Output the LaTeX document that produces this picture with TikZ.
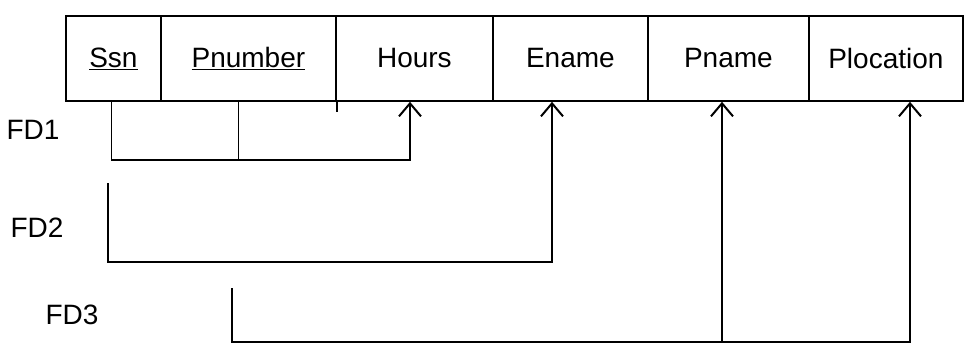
\documentclass[tikz,border=0pt]{standalone}
\usepackage{fontspec}
\setmainfont{Liberation Sans}
\usetikzlibrary{arrows.meta,calc}
\begin{document}
\begin{tikzpicture}[x=1pt,y=-1pt,
  attr/.style={draw, line width=1.8pt, minimum height=85pt, inner sep=0pt, anchor=north west,
               font=\fontsize{28}{32}\selectfont},
  fdlabel/.style={font=\fontsize{28}{32}\selectfont, inner sep=0pt},
  link/.style={line width=1.6pt},
  fdarrow/.style={link, -{Straight Barb[length=13pt,width=22pt,line width=2pt]}}]
\useasboundingbox[fill=white] (0,0) rectangle (975,356);
% relation table
\node[attr, minimum width=95pt]  (ssn)     at (65,15)  {\underline{Ssn}};
\node[attr, minimum width=175pt] (pnumber) at (160,15) {\underline{Pnumber}};
\node[attr, minimum width=157pt] (hours)   at (335,15) {Hours};
\node[attr, minimum width=155pt] (ename)   at (492,15) {Ename};
\node[attr, minimum width=161pt] (pname)   at (647,15) {Pname};
\node[attr, minimum width=154pt] (ploc)    at (808,15) {Plocation};
\draw[link] (pnumber.south east) -- ++(0,10);
% labels
\node[fdlabel] (fd1) at (33,130) {FD1};
\node[fdlabel] (fd2) at (37,228) {FD2};
\node[fdlabel] (fd3) at (72,315) {FD3};
% FD1
\coordinate (c1) at (410,160);
\draw[fdarrow] ([xshift=-2pt]ssn.south) |- (c1) -- (c1 |- hours.south);
\draw[link] ([xshift=-10pt]pnumber.south) -- ([xshift=-10pt]pnumber.south |- c1);
% FD2
\coordinate (f2s) at (108,183);
\coordinate (c2) at (552,262);
\draw[fdarrow] (f2s) |- (c2) -- (c2 |- ename.south);
% FD3
\coordinate (f3s) at (232,288);
\coordinate (c3) at (910,342);
\draw[fdarrow] (f3s) |- (c3) -- (c3 |- ploc.south);
\coordinate (c4) at (722,342);
\draw[fdarrow] (c4) -- (c4 |- pname.south);
\end{tikzpicture}
\end{document}
